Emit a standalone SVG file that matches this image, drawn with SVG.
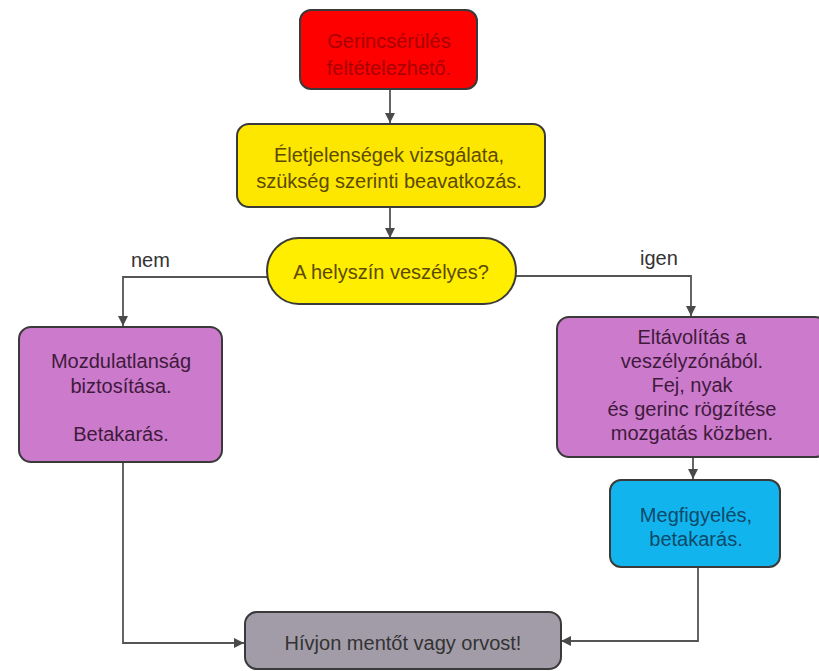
<svg xmlns="http://www.w3.org/2000/svg" width="819" height="671" viewBox="0 0 819 671">
<defs>
<marker id="arr" viewBox="0 0 10 10" refX="10" refY="5" markerWidth="10" markerHeight="10" markerUnits="userSpaceOnUse" orient="auto">
<path d="M0,0 L10,5 L0,10 z" fill="#4a4a4a"/>
</marker>
</defs>
<style>
text{font-family:"Liberation Sans",Arial,sans-serif;font-size:20px;text-anchor:middle}
.box{stroke:#3a3a3a;stroke-width:2}
.c{fill:none;stroke:#555;stroke-width:1.8}
.lbl{fill:#333;text-anchor:start}
</style>
<rect width="819" height="671" fill="#fff"/>
<g id="connectors">
<path class="c" d="M390,89 V123" marker-end="url(#arr)"/>
<path class="c" d="M390,207 V238" marker-end="url(#arr)"/>
<path class="c" d="M267,277 H123 V326" marker-end="url(#arr)"/>
<path class="c" d="M515,276 H691 V316" marker-end="url(#arr)"/>
<path class="c" d="M693,457 V479" marker-end="url(#arr)"/>
<path class="c" d="M123,462 V643 H244" marker-end="url(#arr)"/>
<path class="c" d="M698,567 V641 H561" marker-end="url(#arr)"/>
<text class="lbl" x="131" y="267">nem</text>
<text class="lbl" x="640" y="265">igen</text>
</g>
<g id="start">
<rect class="box" x="300" y="10" width="177" height="79" rx="11" fill="#fe0000"/>
<text x="389" y="48" fill="#a80000">Gerincsérülés</text>
<text x="389" y="75" fill="#a80000">feltételezhető.</text>
</g>
<g id="vitals">
<rect class="box" x="237" y="124" width="308" height="83" rx="12" fill="#fde700"/>
<text x="389" y="162" fill="#5c4a00">Életjelenségek vizsgálata,</text>
<text x="389" y="188" fill="#5c4a00">szükség szerinti beavatkozás.</text>
</g>
<g id="decision">
<rect class="box" x="267" y="238" width="249" height="66" rx="32" ry="33" fill="#ffee00"/>
<text x="391" y="279" fill="#5c4a00">A helyszín veszélyes?</text>
</g>
<g id="immobilize">
<rect class="box" x="19" y="327" width="203" height="135" rx="12" fill="#cc7acc"/>
<text x="121" y="368" fill="#3f1a3c">Mozdulatlanság</text>
<text x="121" y="393" fill="#3f1a3c">biztosítása.</text>
<text x="121" y="441" fill="#3f1a3c">Betakarás.</text>
</g>
<g id="remove">
<rect class="box" x="557" y="317" width="270" height="140" rx="12" fill="#cc7acc"/>
<text x="692" y="344" fill="#3f1a3c">Eltávolítás a</text>
<text x="692" y="368" fill="#3f1a3c">veszélyzónából.</text>
<text x="692" y="392" fill="#3f1a3c">Fej, nyak</text>
<text x="692" y="416" fill="#3f1a3c">és gerinc rögzítése</text>
<text x="692" y="440" fill="#3f1a3c">mozgatás közben.</text>
</g>
<g id="observe">
<rect class="box" x="610" y="480" width="170" height="87" rx="11" fill="#12b4ee"/>
<text x="696" y="522" fill="#0c4a6a">Megfigyelés,</text>
<text x="696" y="546" fill="#0c4a6a">betakarás.</text>
</g>
<g id="call">
<rect class="box" x="245" y="612" width="316" height="57" rx="12" fill="#a29ca8"/>
<text x="403" y="650" fill="#333">Hívjon mentőt vagy orvost!</text>
</g>
</svg>
